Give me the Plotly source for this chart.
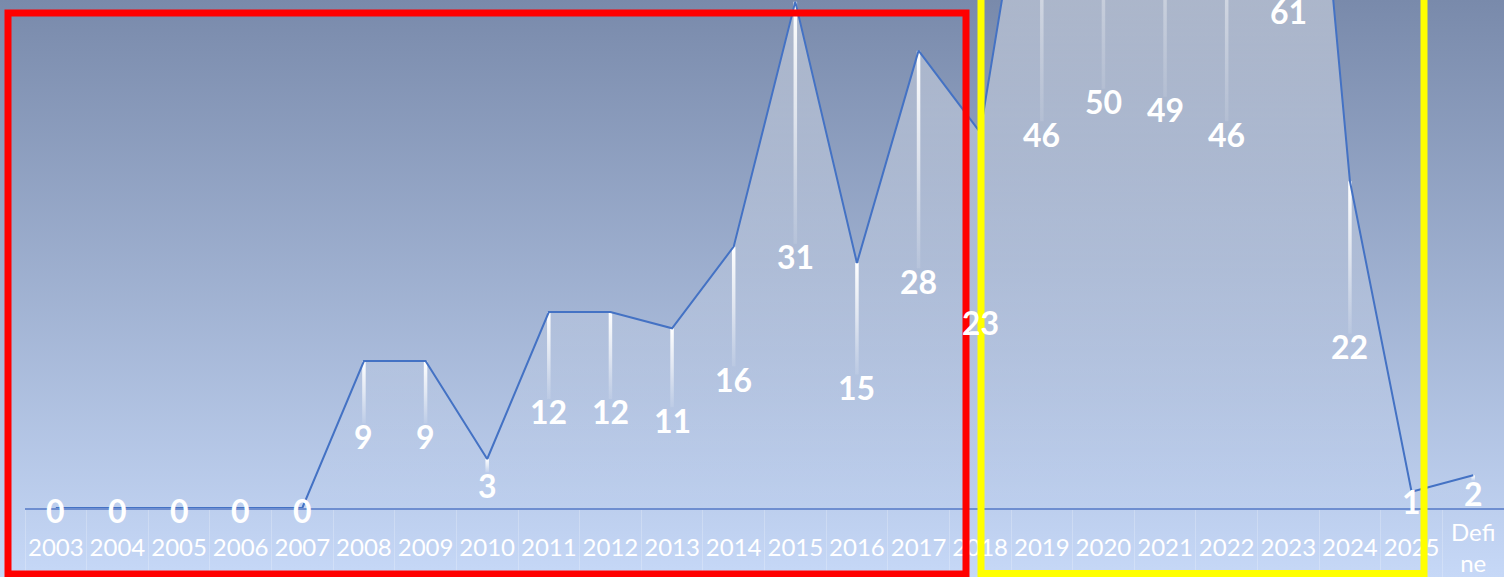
import base64
import plotly.graph_objects as go

# ---- data ----
categories = ['2003', '2004', '2005', '2006', '2007', '2008', '2009', '2010', '2011',
              '2012', '2013', '2014', '2015', '2016', '2017', '2018', '2019', '2020',
              '2021', '2022', '2023', '2024', '2025', 'Define']
values = [0, 0, 0, 0, 0, 9, 9, 3, 12, 12, 11, 16, 31, 15, 28, 23, 46, 50, 49, 46, 61, 20, 1, 2]
labels = ['0', '0', '0', '0', '0', '9', '9', '3', '12', '12', '11', '16', '31', '15', '28',
          '23', '46', '50', '49', '46', '61', '22', '1', '2']

# ---- layout constants ----
W, H = 1504, 577
ML, MR, MT, MB = 25, 0, 0, 69
PW, PH = W - ML - MR, H - MT - MB
YMAX = 31.1
PX_PER_UNIT = PH / YMAX
idx = list(range(len(categories)))

FONT = 'Lato'
LINE_BLUE = '#4472C4'
LABEL_SHIFT_PX = 2   # labels sit a little below the half-value point
GAP_PX = 11          # drop line stops this far above the half-value point

fig = go.Figure()

# area under the line (white gradient overlay)
fig.add_trace(go.Scatter(
    x=idx, y=values, mode='none', fill='tozeroy',
    fillgradient=dict(type='vertical', start=0, stop=YMAX,
                      colorscale=[[0, 'rgba(255,255,255,0.0)'], [1, 'rgba(255,255,255,0.38)']]),
    hoverinfo='skip', showlegend=False))

# drop lines from each point to its label (white fading)
hw = 1.75 / (PW / len(categories))
gap = GAP_PX / PX_PER_UNIT
for i, v in zip(idx, values):
    end = v / 2 + gap
    if v <= 0 or end >= v:
        continue
    fig.add_trace(go.Scatter(
        x=[i - hw, i + hw, i + hw, i - hw, i - hw],
        y=[end, end, v, v, end],
        mode='none', fill='toself',
        fillgradient=dict(type='vertical', start=end, stop=v,
                          colorscale=[[0, 'rgba(255,255,255,0.1)'], [0.5, 'rgba(255,255,255,0.6)'],
                                      [1, 'rgba(255,255,255,1)']]),
        hoverinfo='skip', showlegend=False))

# the data line
fig.add_trace(go.Scatter(
    x=idx, y=values, mode='lines', line=dict(color=LINE_BLUE, width=2),
    hoverinfo='skip', showlegend=False))

# data labels centred at half value
annotations = [dict(x=i, y=v / 2, xref='x', yref='y', text=t, showarrow=False,
                    xanchor='center', yanchor='middle', yshift=-LABEL_SHIFT_PX,
                    font=dict(family=FONT, size=32, color='white', weight='bold'))
               for i, v, t in zip(idx, values, labels)]


def px_to_paper_x(px):
    return (px - ML) / PW


def px_to_paper_y(py):
    return (H - MB - py) / PH


# wrapped last category label, as in the source chart
annotations.append(dict(x=idx[-1], xref='x', y=px_to_paper_y(547), yref='paper',
                        text=categories[-1][:4] + '<br>' + categories[-1][4:],
                        showarrow=False, yanchor='middle', xanchor='center',
                        font=dict(family=FONT, size=24, color='white')))

# background gradient for the whole page
svg = ("<svg xmlns='http://www.w3.org/2000/svg' width='%d' height='%d' preserveAspectRatio='none'>"
       "<defs><linearGradient id='g' x1='0' y1='0' x2='0' y2='1'>"
       "<stop offset='0' stop-color='#798aab'/>"
       "<stop offset='1' stop-color='#c6d8f7'/>"
       "</linearGradient></defs><rect x='0' y='0' width='%d' height='%d' fill='url(#g)'/></svg>") % (W, H, W, H)
src = 'data:image/svg+xml;base64,' + base64.b64encode(svg.encode()).decode()

shapes = [
    dict(type='rect', xref='paper', yref='paper',
         x0=px_to_paper_x(8), x1=px_to_paper_x(966),
         y0=px_to_paper_y(574), y1=px_to_paper_y(13),
         line=dict(color='#ff0000', width=7), fillcolor='rgba(0,0,0,0)', layer='above'),
    dict(type='rect', xref='paper', yref='paper',
         x0=px_to_paper_x(981), x1=px_to_paper_x(1424),
         y0=px_to_paper_y(573.5), y1=px_to_paper_y(-20),
         line=dict(color='#ffff00', width=7), fillcolor='rgba(0,0,0,0)', layer='above'),
]

fig.update_layout(
    width=W, height=H,
    margin=dict(l=ML, r=MR, t=MT, b=MB, pad=0),
    paper_bgcolor='#a0b2d2', plot_bgcolor='rgba(0,0,0,0)',
    showlegend=False,
    images=[dict(source=src, xref='paper', yref='paper',
                 x=-ML / PW, y=1 + MT / PH, sizex=W / PW, sizey=H / PH,
                 xanchor='left', yanchor='top', sizing='stretch', layer='below')],
    shapes=shapes,
    annotations=annotations,
    xaxis=dict(
        range=[-0.5, len(categories) - 0.5],
        tickmode='array', tickvals=idx[:-1], ticktext=categories[:-1],
        ticks='', showgrid=False, zeroline=False,
        showline=True, linecolor='#6e8ed0', linewidth=2,
        tickfont=dict(family=FONT, size=24, color='white'),
        ticklabelstandoff=17,
        layer='below traces',
        minor=dict(tickmode='array', tickvals=[i - 0.5 for i in range(len(categories) + 1)],
                   ticks='outside', ticklen=70, tickwidth=1,
                   tickcolor='rgba(255,255,255,0.22)', showgrid=False),
    ),
    yaxis=dict(range=[0, YMAX], showgrid=False, zeroline=False, showticklabels=False,
               ticks='', showline=False),
)

fig.write_html('out.html', config={'displayModeBar': False},
               post_script="document.body.style.margin='0';document.body.style.overflow='hidden';")
